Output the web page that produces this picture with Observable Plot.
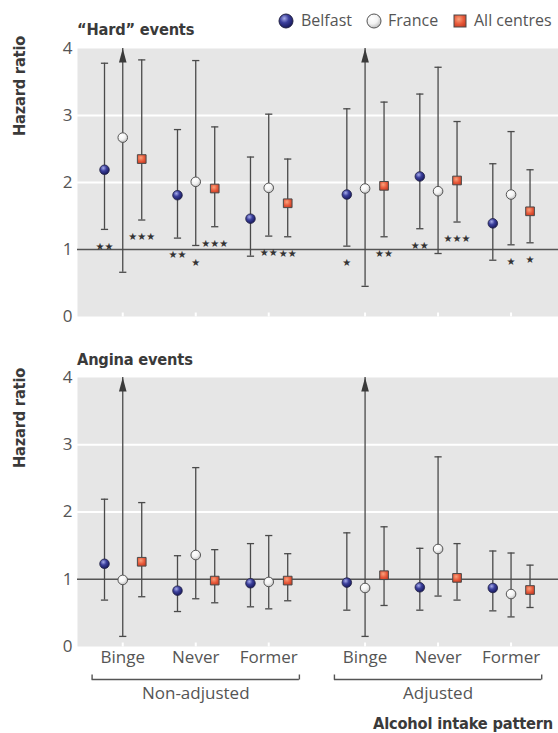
<!DOCTYPE html>
<html><head><meta charset="utf-8">
<script src="https://cdn.jsdelivr.net/npm/d3@7"></script>
<script src="https://cdn.jsdelivr.net/npm/@observablehq/plot@0.6"></script>
<style>
body{margin:0;background:#fff;}
#chart{position:relative;width:558px;height:733px;overflow:hidden;font-family:"Open Sans",sans-serif;color:#555;}
.abs{position:absolute;white-space:nowrap;}
.head{font-family:"DejaVu Sans Condensed","DejaVu Sans",sans-serif;font-stretch:condensed;font-weight:bold;font-size:16.3px;color:#3a3a3a;line-height:1;letter-spacing:-0.2px;}
.leg{font-size:16px;line-height:1;color:#555;}
.rot{transform:translate(-50%,-50%) rotate(-90deg);}
</style></head>
<body>
<svg width="0" height="0" style="position:absolute">
  <defs>
    <radialGradient id="gBelfast" cx="38%" cy="32%" r="70%">
      <stop offset="0" stop-color="#a7acea"/><stop offset="0.45" stop-color="#3b3f9c"/><stop offset="1" stop-color="#17185a"/>
    </radialGradient>
    <radialGradient id="gFrance" cx="38%" cy="32%" r="70%">
      <stop offset="0" stop-color="#ffffff"/><stop offset="0.55" stop-color="#f3f3f3"/><stop offset="1" stop-color="#bdbdbd"/>
    </radialGradient>
    <radialGradient id="gAll" cx="40%" cy="35%" r="75%">
      <stop offset="0" stop-color="#f9a27c"/><stop offset="0.55" stop-color="#e8593a"/><stop offset="1" stop-color="#c43b22"/>
    </radialGradient>
  </defs>
</svg>
<div id="chart"></div>
<script>
// ---- data ----
const patterns = ["Binge", "Never", "Former"];
const adjustments = ["Non-adjusted", "Adjusted"];
const centres = ["Belfast", "France", "All centres"];
const yTicks = [0, 1, 2, 3, 4];

// order: adjustment > pattern > centre (Belfast, France, All centres); null upper = beyond axis (arrow)
const hardHR    = [2.19, 2.67, 2.35, 1.81, 2.01, 1.91, 1.46, 1.92, 1.69, 1.82, 1.91, 1.95, 2.09, 1.87, 2.03, 1.39, 1.82, 1.57];
const hardLower = [1.30, 0.66, 1.44, 1.17, 1.06, 1.34, 0.90, 1.20, 1.19, 1.05, 0.45, 1.19, 1.31, 0.94, 1.41, 0.84, 1.07, 1.10];
const hardUpper = [3.78, null, 3.83, 2.79, 3.82, 2.83, 2.38, 3.02, 2.35, 3.10, null, 3.20, 3.32, 3.72, 2.91, 2.28, 2.76, 2.19];
const hardStars = ["**", "", "***", "**", "*", "***", "", "**", "**", "*", "", "**", "**", "", "***", "", "*", "*"];

const anginaHR    = [1.23, 0.99, 1.26, 0.83, 1.36, 0.98, 0.94, 0.96, 0.98, 0.95, 0.87, 1.06, 0.88, 1.45, 1.02, 0.87, 0.78, 0.84];
const anginaLower = [0.69, 0.15, 0.74, 0.52, 0.71, 0.65, 0.59, 0.56, 0.68, 0.54, 0.15, 0.61, 0.54, 0.75, 0.69, 0.53, 0.44, 0.58];
const anginaUpper = [2.19, null, 2.14, 1.35, 2.66, 1.44, 1.53, 1.65, 1.38, 1.69, null, 1.78, 1.46, 2.82, 1.53, 1.42, 1.39, 1.21];
const anginaStars = ["", "", "", "", "", "", "", "", "", "", "", "", "", "", "", "", "", ""];

// ---- layout helpers ----
const groupGap = 0.32;
const catPos = (g, p) => 1 + p + g * (patterns.length + groupGap);
const centreOffset = {"Belfast": -0.25, "France": 0, "All centres": 0.26};
const xDomain = [0.38, 6.97];
const yMax = d3.max(yTicks);
const ticksPos = [], tickLabel = new Map();
adjustments.forEach((a, g) => patterns.forEach((p, i) => { const v = catPos(g, i); ticksPos.push(v); tickLabel.set(v, p); }));
const groups = adjustments.map((a, g) => ({name: a, start: catPos(g, 0) - 0.42, end: catPos(g, patterns.length - 1) + 0.42, center: catPos(g, 1)}));
const bracketEnds = groups.flatMap(d => [d.start, d.end]);

function rowsOf(hr, lo, up, st) {
  const rows = [];
  let k = 0;
  adjustments.forEach((a, g) => patterns.forEach((p, i) => centres.forEach(c => {
    rows.push({adj: a, pattern: p, centre: c, x: catPos(g, i) + centreOffset[c], hr: hr[k], lower: lo[k], upper: up[k], stars: st[k]});
    k++;
  })));
  return rows;
}

const capSym = {draw(ctx) { ctx.moveTo(-3.6, 0); ctx.lineTo(3.6, 0); }};
const arrowSym = {draw(ctx) { ctx.moveTo(0, 0); ctx.lineTo(3.8, 14); ctx.lineTo(-3.8, 14); ctx.closePath(); }};
const tickUp = (h) => ({draw(ctx) { ctx.moveTo(0, 0); ctx.lineTo(0, -h); }});

function panel(rows, {height, marginTop, marginBottom, showX}) {
  const marks = [
    Plot.frame({fill: "#e6e6e6", stroke: null}),
    Plot.ruleY([2, 3], {stroke: "white", strokeWidth: 2}),
    Plot.ruleY([1], {stroke: "#555", strokeWidth: 1.5}),
    Plot.dot(ticksPos, {x: d => d, y: () => 0, symbol: tickUp(4), stroke: "white", strokeWidth: 2, r: 3}),
    Plot.axisY({ticks: yTicks, tickFormat: d3.format("d"), tickSize: 0, tickPadding: 5, fontSize: 17, fill: "#555", label: null}),
    Plot.ruleX(rows, {x: "x", y1: "lower", y2: d => d.upper ?? yMax, stroke: "#4a4a4a", strokeWidth: 1.3}),
    Plot.dot(rows, {x: "x", y: "lower", symbol: capSym, stroke: "#4a4a4a", fill: "none", strokeWidth: 1.3, r: 3}),
    Plot.dot(rows.filter(d => d.upper != null), {x: "x", y: "upper", symbol: capSym, stroke: "#4a4a4a", fill: "none", strokeWidth: 1.3, r: 3}),
    Plot.dot(rows.filter(d => d.upper == null), {x: "x", y: () => yMax, symbol: arrowSym, fill: "#3a3a3a", stroke: "none", r: 3}),
    Plot.dot(rows.filter(d => d.centre === "Belfast"), {x: "x", y: "hr", r: 4.8, fill: "url(#gBelfast)", stroke: "#222244", strokeWidth: 0.8}),
    Plot.dot(rows.filter(d => d.centre === "France"), {x: "x", y: "hr", r: 4.8, fill: "url(#gFrance)", stroke: "#555", strokeWidth: 1}),
    Plot.dot(rows.filter(d => d.centre === "All centres"), {x: "x", y: "hr", r: 4.9, symbol: "square", fill: "url(#gAll)", stroke: "#4a4a4a", strokeWidth: 1}),
    Plot.text(rows.filter(d => d.stars), {x: "x", y: "lower", text: d => d.stars.replace(/\*/g, "★"), dy: 17, fontSize: 10, fill: "#333", fontFamily: "DejaVu Sans"})
  ];
  if (showX) {
    marks.push(
      Plot.axisX({ticks: ticksPos, tickFormat: d => tickLabel.get(d), tickSize: 0, tickPadding: 4, fontSize: 17, fill: "#555", label: null}),
      Plot.ruleY(groups, {x1: "start", x2: "end", y: () => 0, dy: 33, stroke: "#555", strokeWidth: 1.4}),
      Plot.dot(bracketEnds, {x: d => d, y: () => 0, dy: 33, symbol: tickUp(5), stroke: "#555", strokeWidth: 1.4, r: 3}),
      Plot.text(groups, {x: "center", y: () => 0, text: "name", dy: 47, fontSize: 17, fill: "#555"})
    );
  }
  return Plot.plot({
    width: 558, height, marginTop, marginBottom, marginLeft: 77, marginRight: 0,
    style: {fontFamily: "'Open Sans', sans-serif", background: "transparent", overflow: "visible"},
    x: {type: "linear", domain: xDomain, axis: null},
    y: {domain: [0, yMax], axis: null},
    marks
  });
}

const chart = document.getElementById("chart");
function place(el, left, topPx) { el.style.position = "absolute"; el.style.left = left + "px"; el.style.top = topPx + "px"; chart.appendChild(el); return el; }
function text(cls, str, left, topPx) { const d = document.createElement("div"); d.className = "abs " + cls; d.textContent = str; return place(d, left, topPx); }

const hardPlot = panel(rowsOf(hardHR, hardLower, hardUpper, hardStars), {height: 330, marginTop: 48, marginBottom: 14, showX: false});
place(hardPlot, 0, 0);
const anginaPlot = panel(rowsOf(anginaHR, anginaLower, anginaUpper, anginaStars), {height: 403, marginTop: 47, marginBottom: 87, showX: true});
place(anginaPlot, 0, 330);

text("head", "\u201CHard\u201D events", 77, 22);
text("head", "Angina events", 77, 352);
text("head rot", "Hazard ratio", 20, 86);
text("head rot", "Hazard ratio", 20, 418);
const ax = text("head", "Alcohol intake pattern", 0, 716);
ax.style.left = "auto"; ax.style.right = "5px";

// legend
function legendMarker(kind, cx, cy) {
  const s = d3.create("svg").attr("width", 16).attr("height", 16);
  if (kind === "square") s.append("rect").attr("x", 2).attr("y", 2).attr("width", 12).attr("height", 12).attr("fill", "url(#gAll)").attr("stroke", "#4a4a4a");
  else s.append("circle").attr("cx", 8).attr("cy", 8).attr("r", 7).attr("fill", kind === "Belfast" ? "url(#gBelfast)" : "url(#gFrance)").attr("stroke", kind === "Belfast" ? "#222244" : "#555");
  return place(s.node(), cx - 8, cy - 8);
}
legendMarker("Belfast", 286, 21);
text("leg", centres[0], 301, 12);
legendMarker("France", 374, 21);
text("leg", centres[1], 388, 12);
legendMarker("square", 460, 21);
text("leg", centres[2], 474, 12);
</script>
</body></html>
